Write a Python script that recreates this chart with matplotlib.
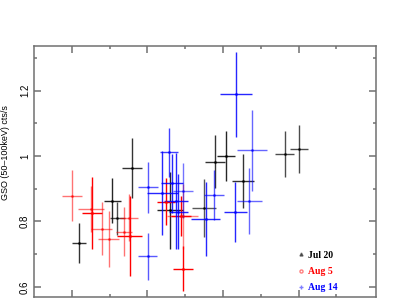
import matplotlib
matplotlib.use('Agg')
import matplotlib.pyplot as plt
from matplotlib.lines import Line2D
from matplotlib.ticker import MultipleLocator, FixedLocator

# Jul 20
jul_x = [1.19, 2.07, 2.20, 2.59, 3.60, 4.50, 4.79, 5.08, 5.52, 6.64, 7.01]
jul_xerr = [0.18, 0.22, 0.20, 0.26, 0.34, 0.31, 0.26, 0.24, 0.29, 0.25, 0.235]
jul_y = [0.734, 0.864, 0.810, 0.963, 0.834, 0.841, 0.983, 1.001, 0.924, 1.007, 1.022]
jul_yerr = [0.060, 0.070, 0.050, 0.092, 0.117, 0.089, 0.082, 0.076, 0.083, 0.070, 0.073]

# Aug 5
aug5_x = [1.00, 1.50, 1.54, 1.79, 1.98, 2.38, 2.52, 2.53, 3.49, 3.93, 3.89, 3.95]
aug5_xerr = [0.26, 0.34, 0.26, 0.27, 0.28, 0.22, 0.24, 0.34, 0.23, 0.40, 0.26, 0.26]
aug5_y = [0.879, 0.838, 0.827, 0.778, 0.746, 0.769, 0.812, 0.755, 0.860, 0.816, 0.817, 0.656]
aug5_yerr = [0.079, 0.071, 0.110, 0.082, 0.086, 0.075, 0.073, 0.122, 0.072, 0.100, 0.060, 0.070]

# Aug 14
aug14_x = [3.01, 3.01, 3.57, 3.40, 3.64, 3.76, 3.82, 3.95, 4.54, 4.76, 5.33, 5.76, 5.70, 5.34]
aug14_xerr = [0.265, 0.25, 0.24, 0.405, 0.29, 0.32, 0.26, 0.26, 0.38, 0.26, 0.30, 0.40, 0.34, 0.42]
aug14_y = [0.904, 0.693, 1.011, 0.886, 0.917, 0.863, 0.830, 0.894, 0.807, 0.881, 0.828, 1.017, 0.863, 1.189]
aug14_yerr = [0.079, 0.073, 0.076, 0.128, 0.090, 0.147, 0.115, 0.084, 0.114, 0.076, 0.092, 0.124, 0.100, 0.130]

labels = ['Jul 20', 'Aug 5', 'Aug 14']

# some bars in the original are drawn fainter than others
jul_alpha = [0.8, 0.85, 0.7, 0.8, 0.85, 0.65, 0.8, 0.85, 0.8, 0.7, 0.7]
aug5_alpha = [0.55, 0.55, 1.0, 0.55, 0.55, 0.55, 0.55, 1.0, 1.0, 0.5, 1.0, 1.0]
aug14_alpha = [0.65, 0.65, 0.75, 0.85, 0.85, 0.85, 0.85, 0.55, 0.85, 0.65, 0.85, 0.6, 0.6, 0.85]

fig = plt.figure(figsize=(4.15, 2.98), dpi=100)
ax = fig.add_axes([34 / 415, 1 / 298, 342 / 415, 251 / 298])


def draw(xs, xe, ys, ye, alphas, color):
    for x, dx, y, dy, a in zip(xs, xe, ys, ye, alphas):
        ax.errorbar(x, y, xerr=dx, yerr=dy, fmt='.', ms=2, color=color,
                    ecolor=color, elinewidth=1.0, capsize=0, alpha=a)


draw(jul_x, jul_xerr, jul_y, jul_yerr, jul_alpha, 'black')
draw(aug5_x, aug5_xerr, aug5_y, aug5_yerr, aug5_alpha, '#ff0000')
draw(aug14_x, aug14_xerr, aug14_y, aug14_yerr, aug14_alpha, '#0000ff')

ax.set_xlim(0, 9.05)
ax.set_ylim(0.569, 1.3365)
ax.xaxis.set_major_locator(FixedLocator([1, 3, 5, 7]))
ax.xaxis.set_minor_locator(FixedLocator([2, 4, 6, 8]))
ax.yaxis.set_major_locator(MultipleLocator(0.2))
ax.yaxis.set_minor_locator(MultipleLocator(0.1))
ax.set_xticklabels([])
ax.set_yticks([0.6, 0.8, 1.0, 1.2])
ax.set_yticklabels(['0.6', '0.8', '1', '1.2'], rotation=90, va='center',
                   fontfamily='Liberation Sans', fontsize=7)

gray = '#707070'
for s in ax.spines.values():
    s.set_color(gray)
    s.set_linewidth(1.1)
ax.tick_params(which='both', direction='in', top=True, right=True, color=gray, width=1.1)
ax.tick_params(which='major', length=5, pad=3)
ax.tick_params(which='minor', length=2.5)

fig.text(6 / 415, 1 - 153 / 298, 'GSO (50\u2013100keV) cts/s', rotation=90,
         ha='center', va='center', fontsize=6.5, fontfamily='Liberation Sans')

handles = [
    Line2D([], [], ls='none', marker='^', ms=2.2, color='black', alpha=0.5),
    Line2D([], [], ls='none', marker='o', ms=2.2, mfc='none', color='#ff0000', alpha=0.5),
    Line2D([], [], ls='none', marker='+', ms=3.2, color='#0000ff', alpha=0.5),
]
leg = ax.legend(handles, labels, loc='lower left', bbox_to_anchor=(0.752, -0.008),
                frameon=False, handlelength=0.6, handletextpad=0.45,
                labelspacing=0.74, borderpad=0.2,
                prop={'family': 'Liberation Serif', 'weight': 'bold', 'size': 7})
for t, c in zip(leg.get_texts(), ['black', '#ff0000', '#0000ff']):
    t.set_color(c)

fig.savefig('out.png', dpi=100)
